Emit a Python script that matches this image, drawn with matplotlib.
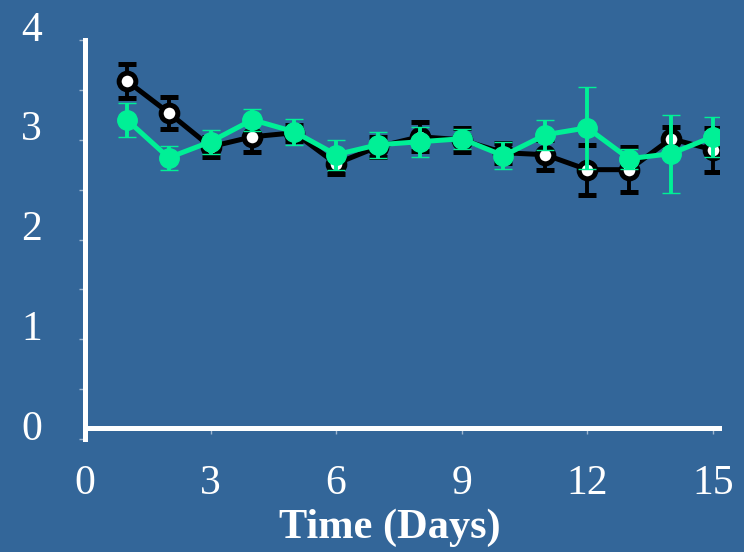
import matplotlib
matplotlib.use("Agg")
import matplotlib.pyplot as plt
import matplotlib.transforms as mtransforms
from matplotlib.ticker import MultipleLocator

days = [1, 2, 3, 4, 5, 6, 7, 8, 9, 10, 11, 12, 13, 14, 15]
black_vals = [3.59, 3.27, 2.93, 3.03, 3.07, 2.76, 2.93, 3.03, 3.00, 2.87, 2.85, 2.70, 2.70, 3.01, 2.90]
black_err = [0.17, 0.16, 0.10, 0.15, 0.08, 0.10, 0.10, 0.145, 0.12, 0.10, 0.15, 0.25, 0.225, 0.12, 0.22]
green_vals = [3.20, 2.82, 2.98, 3.20, 3.08, 2.85, 2.95, 2.98, 3.01, 2.84, 3.05, 3.12, 2.81, 2.86, 3.03]
green_err = [0.17, 0.12, 0.12, 0.11, 0.13, 0.15, 0.13, 0.15, 0.10, 0.135, 0.15, 0.41, 0.10, 0.39, 0.20]
x_ticks = [0, 3, 6, 9, 12, 15]
y_ticks = [0, 1, 2, 3, 4]
x_label = "Time (Days)"

BG = "#336699"
GREEN = "#00F096"
TICKC = "#9fb6cf"

plt.rcParams['font.family'] = ['Liberation Serif', 'DejaVu Serif']

fig = plt.figure(figsize=(7.44, 5.52), dpi=100, facecolor=BG)
ax = fig.add_axes([85/744, 113/552, 634/744, 399/552])
ax.set_facecolor(BG)

ax.errorbar(days, black_vals, yerr=black_err, color="black", lw=3.6,
            marker="o", ms=12, mfc="white", mec="black", mew=3.6,
            ecolor="black", elinewidth=2.8, capsize=6.5, capthick=2.8, zorder=3)
ax.errorbar(days, green_vals, yerr=green_err, color=GREEN, lw=3.6,
            marker="o", ms=14, mfc=GREEN, mec=GREEN, mew=1,
            ecolor=GREEN, elinewidth=2.8, capsize=6.5, capthick=2.8, zorder=4)

ax.set_xlim(0, 15.15)
ax.set_ylim(0, 4)
for s in ["top", "right"]:
    ax.spines[s].set_visible(False)
ax.spines["left"].set_position(("data", 0))
ax.spines["bottom"].set_position(("data", 0.11))
for s in ["left", "bottom"]:
    ax.spines[s].set_color("white")
    ax.spines[s].set_linewidth(3.6)

ax.set_xticks(x_ticks)
ax.set_yticks(y_ticks)
ax.yaxis.set_minor_locator(MultipleLocator(0.5))
ax.tick_params(axis="y", which="both", direction="out", length=4, width=1,
               color=TICKC, labelcolor="white", labelsize=30, pad=27)
ax.tick_params(axis="x", which="both", direction="out", length=4, width=1,
               color=TICKC, labelcolor="white", labelsize=30, pad=22)

offset_y = mtransforms.ScaledTranslation(0, 14/100, fig.dpi_scale_trans)
for lbl in ax.get_yticklabels():
    lbl.set_transform(lbl.get_transform() + offset_y)

ax.set_xlabel(x_label, color="white", fontsize=30.5, fontweight="bold")
ax.xaxis.set_label_coords((390 - 85) / 634, (439 - 509) / 399)

fig.savefig("out.png", dpi=100, facecolor=BG)
